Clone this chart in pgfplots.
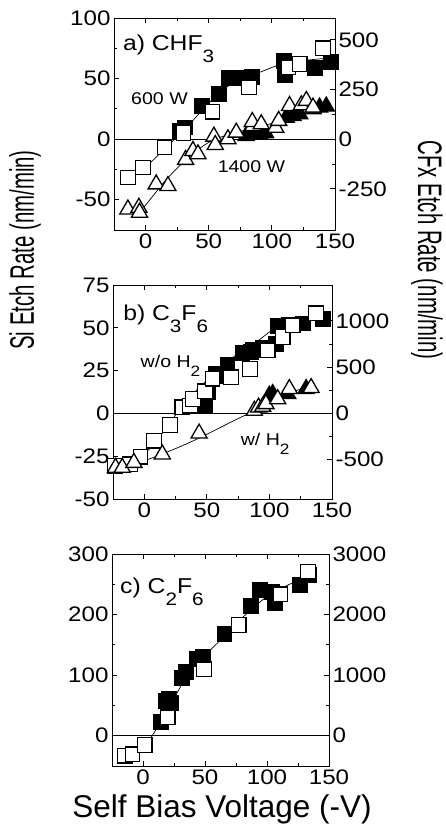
\documentclass[border=0pt]{standalone}
\usepackage{fontspec}
\setmainfont{Liberation Sans}[FakeStretch=1.15]
\newfontfamily\labfont{Liberation Sans}
\newfontfamily\rotfont{Liberation Sans}[FakeStretch=0.6]
\usepackage{pgfplots}
\pgfplotsset{compat=1.18}
\newcommand\tickfont{\fontsize{21}{21}\selectfont}
\newcommand\titfont{\fontsize{21.5}{21.5}\selectfont}
\newcommand\annfont{\fontsize{17}{17}\selectfont}
\newcommand\tsub[1]{\raisebox{-12pt}{\fontsize{18}{18}\selectfont #1}}
\newcommand\asub[1]{\raisebox{-9pt}{\fontsize{15}{15}\selectfont #1}}
\pgfplotsset{
  base/.style={scale only axis, clip=false, xmin=-25, xmax=150,
    axis line style={line width=0.9pt}, tick style={line width=0.8pt, black},
    tick align=inside, major tick length=5pt, minor tick length=3pt,
    ticklabel style={font=\tickfont},
    /pgf/number format/assume math mode=true, /pgf/number format/1000 sep={}},
  leftax/.style={base, xtick={0,50,100,150}, minor xtick={-25,25,75,125},
    xtick pos=both, xticklabel pos=lower, ytick pos=left},
  rightax/.style={base, axis x line=none, axis y line*=right, minor y tick num=1},
  osq/.style={only marks, mark=square*, mark size=7.3pt, mark options={fill=white, draw=black, line width=1.3pt}},
  fsq/.style={only marks, mark=square*, mark size=7.3pt, mark options={fill=black, draw=black, line width=1.3pt}},
  otri/.style={only marks, mark=triangle*, mark size=9.3pt, mark options={fill=white, draw=black, line width=1.3pt}},
  ftri/.style={only marks, mark=triangle*, mark size=9.3pt, mark options={fill=black, draw=black, line width=1.3pt}},
  fit/.style={no marks, smooth, black, line width=0.7pt},
  zero/.style={no marks, black, line width=0.5pt},
}
\begin{document}
\begin{tikzpicture}
\useasboundingbox (0pt,0pt) rectangle (445pt,-827pt);
% ---------------- panel a ----------------
\begin{axis}[leftax, at={(114pt,-230pt)}, anchor=south west, width=221pt, height=212pt,
  ymin=-75, ymax=100, ytick={-50,0,50,100}, minor ytick={-75,-25,25,75}]
\addplot[zero] coordinates {(-25,0) (150,0)};
\addplot[fit] coordinates {(-14,-32) (0,-23) (15,-8) (30,7) (45,24) (60,40) (75,49) (90,55) (105,61) (120,64) (135,66) (150,67)};
\addplot[fit] coordinates {(-5,-61) (5,-48) (15,-35) (25,-24) (35,-14) (45,-6) (55,0) (70,5) (85,9) (100,13) (115,18) (130,22) (147,27)};
\addplot[fsq] coordinates {(27.5,6.9) (31,9.6) (45,27) (58,37.2) (66,50.4) (72,50.4) (84,51.5) (109.3,64.2) (110.4,52.9) (134,58.4) (147,63.9)};
\addplot[osq] coordinates {(-14,-31.7) (-2,-23.4) (15,-6.9) (30,5) (53,22.6) (82,42.7) (113,59.2) (122,62) (140.5,75)};
\addplot[ftri] coordinates {(79.7,2.8) (85,4.1) (90.3,4.1) (95,5) (111.4,17.9) (116.7,19.3) (122,20.7) (132.6,24.8) (137.8,26.2) (143.1,27)};
\addplot[otri] coordinates {(-14,-57.9) (-5.3,-56.5) (-4.8,-60.6) (8.4,-37.2) (17.7,-38.6) (31.7,-17) (37.5,-9.6) (41.5,-12.4) (54.1,2.2) (55.2,-4.7) (65.2,0) (71.8,5.5) (85,11) (84.5,14.3) (91.6,12.4) (103,9.6) (105.4,15.2) (114,27.5) (123.3,28.1) (127.3,31.7) (132.6,26.2)};
\node[anchor=base west, inner sep=0pt, font=\titfont] at (rel axis cs:0.04,0.849) {a) CHF\tsub{3}};
\node[anchor=base west, inner sep=0pt, font=\annfont] at (axis cs:-11.5,29) {600 W};
\node[anchor=base west, inner sep=0pt, font=\annfont] at (axis cs:57,-27.3) {1400 W};
\end{axis}
\begin{axis}[rightax, at={(114pt,-230pt)}, anchor=south west, width=221pt, height=212pt,
  ymin=-457.5, ymax=610, ytick={-250,0,250,500}]
\end{axis}
% ---------------- panel b ----------------
\begin{axis}[leftax, at={(113pt,-499pt)}, anchor=south west, width=219pt, height=214pt,
  ymin=-50, ymax=75, ytick={-50,-25,0,25,50,75}]
\addplot[zero] coordinates {(-25,0) (150,0)};
\addplot[fit] coordinates {(-20,-31) (-5,-27) (5,-20) (15,-11) (25,-1) (35,8) (45,16) (55,22) (65,29) (75,35) (90,42) (105,50) (120,54) (140,57)};
\addplot[fit] coordinates {(-20,-30) (0,-27.5) (15,-23.5) (30,-19) (45,-14) (60,-8.5) (75,-3) (88,1.5) (100,6.5) (115,11.5) (135,17)};
\addplot[fsq] coordinates {(48.3,4.5) (51.3,12.3) (57.2,23.1) (60.6,22.1) (66.5,28.4) (78.5,35.2) (85.2,35.8) (86.5,37.2) (95.1,38.4) (105.2,40.7) (106.6,50.9) (115.9,51.5) (126.6,52.5) (142.6,55.4)};
\addplot[osq] coordinates {(-23.5,-30.7) (-11.5,-29.8) (-3,-25.3) (7.7,-16) (20.6,-6.7) (30.4,3.5) (36.6,4.5) (39,8.4) (48.6,12.9) (54.5,20.2) (69.2,21.1) (84.4,26) (98.6,36.8) (110.6,44.6) (118.6,51.5) (137.3,58.4)};
\addplot[ftri] coordinates {(99.9,10.4) (102.6,11.4) (114.6,11.4) (129.3,14.3)};
\addplot[otri] coordinates {(-23,-31.7) (-17.6,-31.7) (-8.3,-28.8) (14.4,-23.9) (43.8,-11.7) (87.9,1.6) (91.3,3.5) (94.6,3.9) (97.2,5.5) (106.6,8.4) (115.9,14.3) (133.3,14.9)};
\node[anchor=base west, inner sep=0pt, font=\titfont] at (rel axis cs:0.046,0.836) {b) C\tsub{3}F\tsub{6}};
\node[anchor=base west, inner sep=0pt, font=\annfont] at (axis cs:-3,26.9) {w/o H\asub{2}};
\node[anchor=base west, inner sep=0pt, font=\annfont] at (axis cs:77,-18.9) {w/ H\asub{2}};
\end{axis}
\begin{axis}[rightax, at={(113pt,-499pt)}, anchor=south west, width=219pt, height=214pt,
  ymin=-925, ymax=1387.5, ytick={-500,0,500,1000}]
\end{axis}
% ---------------- panel c ----------------
\begin{axis}[leftax, at={(112pt,-766pt)}, anchor=south west, width=217pt, height=212pt,
  ymin=-50, ymax=300, ytick={0,100,200,300}, minor ytick={-50,50,150,250}]
\addplot[zero] coordinates {(-25,0) (150,0)};
\addplot[fit] coordinates {(3,-12) (10,8) (20,42) (30,80) (40,113) (50,133) (62,157) (75,185) (90,213) (100,230) (110,242) (122,254) (133,268)};
\addplot[fsq] coordinates {(14.6,23.1) (18.6,57.8) (21.3,60) (20.5,42.4) (22.6,53.4) (31.1,95.8) (34.6,105.7) (43.9,126) (48.7,130.4) (65.7,167.9) (87,214.1) (94.4,240.5) (103.7,237.8) (106.4,218.5) (126.3,248.8) (134.3,265.3)};
\addplot[osq] coordinates {(-14.6,-33) (-8.5,-30.8) (1.3,-15.4) (19.9,30.3) (49.2,109.5) (77.1,182.7) (110.9,233.4) (133,270.8)};
\node[anchor=base west, inner sep=0pt, font=\titfont] at (rel axis cs:0.037,0.816) {c) C\tsub{2}F\tsub{6}};
\end{axis}
\begin{axis}[rightax, at={(112pt,-766pt)}, anchor=south west, width=217pt, height=212pt,
  ymin=-500, ymax=3000, ytick={0,1000,2000,3000}]
\end{axis}
% ---------------- labels ----------------
\node[rotate=90, font=\rotfont\fontsize{34}{34}\selectfont] at (25pt,-250pt) {Si Etch Rate (nm/min)};
\node[rotate=-90, font=\rotfont\fontsize{34}{34}\selectfont] at (427pt,-250pt) {CFx Etch Rate (nm/min)};
\node[anchor=base, font=\labfont\fontsize{31.5}{31.5}\selectfont] at (222pt,-817pt) {Self Bias Voltage (-V)};
\end{tikzpicture}
\end{document}
